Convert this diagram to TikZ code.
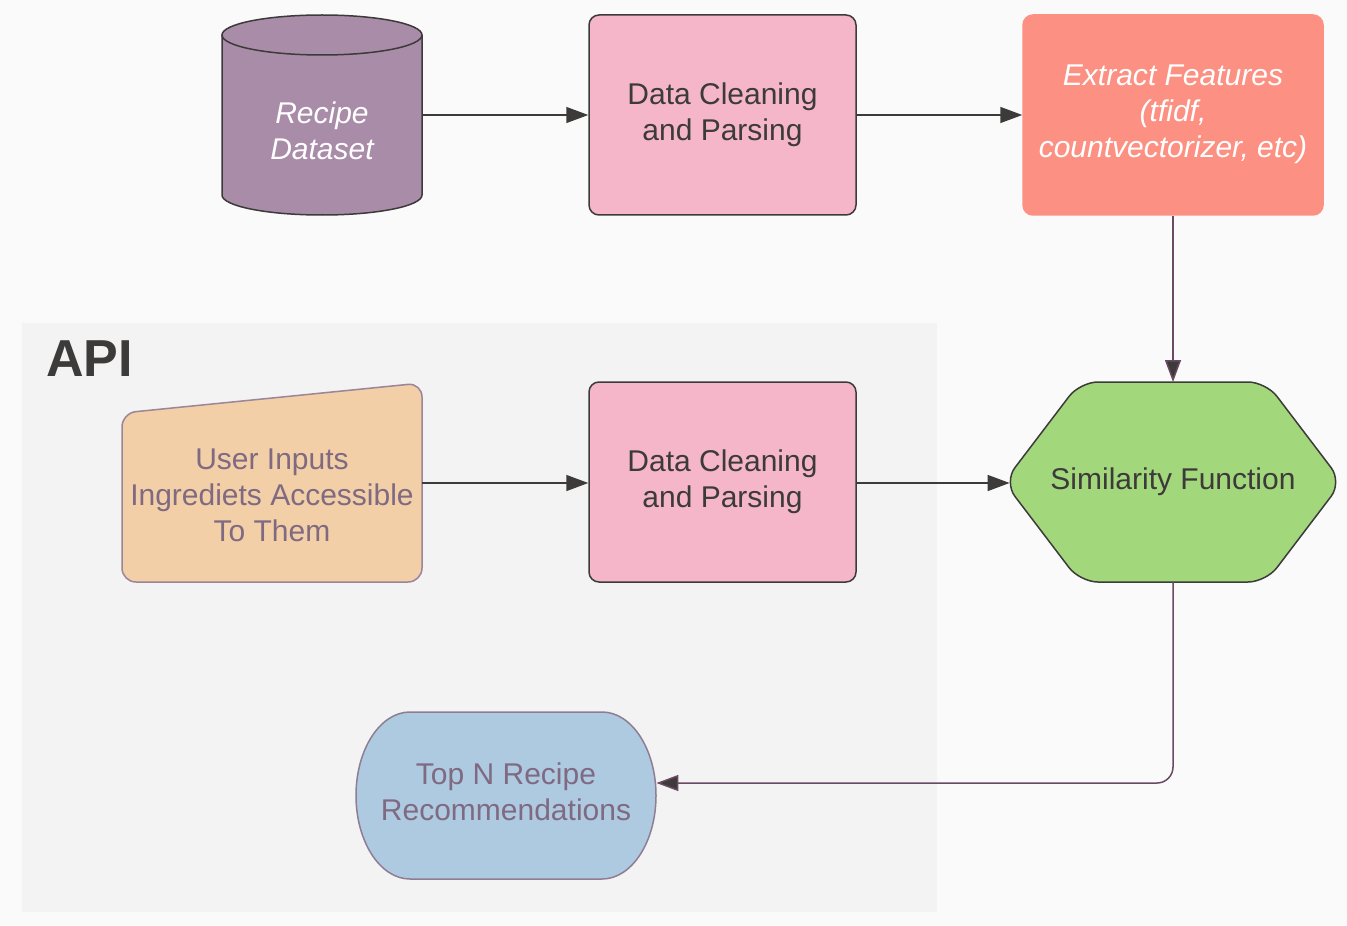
\documentclass[tikz,border=0pt]{standalone}
\usepackage{fontspec}
\setmainfont{Liberation Sans}
\usetikzlibrary{arrows.meta}
\definecolor{bgc}{HTML}{FAFAFA}
\definecolor{apic}{HTML}{F3F3F3}
\definecolor{dark}{HTML}{3D3A3A}
\definecolor{cylc}{HTML}{A98CA8}
\definecolor{dcc}{HTML}{F4B6C8}
\definecolor{efc}{HTML}{FC9183}
\definecolor{simc}{HTML}{A3D77C}
\definecolor{userc}{HTML}{F2CFA6}
\definecolor{userb}{HTML}{9C8499}
\definecolor{topc}{HTML}{ADCAE1}
\definecolor{topb}{HTML}{8F7D94}
\definecolor{purtext}{HTML}{7F6A82}
\definecolor{maroon}{HTML}{6A4A63}
\tikzset{
  box/.style={draw=dark, line width=0.75pt, rounded corners=5pt, fill=dcc,
    minimum width=133.5pt, minimum height=100pt},
  ghost/.style={minimum width=#1, align=center, inner sep=0pt},
  conn/.style={draw=dark, line width=0.75pt, -{Triangle[length=11pt,width=8pt]}},
  connm/.style={draw=maroon, line width=0.75pt, -{Triangle[length=11pt,width=8pt,fill=dark]}},
  txt/.style={font=\fontsize{15}{18}\selectfont, align=center}
}
\begin{document}
\begin{tikzpicture}[x=0.5pt,y=-0.5pt]
\useasboundingbox (0,0) rectangle (1347,925);
\fill[bgc] (0,0) rectangle (1347,925);
% API region
\fill[apic] (22,323) rectangle (937,912);
\node[anchor=north west, inner sep=0pt, font=\fontsize{26}{30}\selectfont\bfseries, text=dark] (api) at (46,340) {API};
% cylinder
\filldraw[fill=cylc, draw=dark, line width=0.75pt] (222,35) -- (222,195) arc[start angle=180, end angle=360, x radius=50pt, y radius=10pt] -- (422,35);
\filldraw[fill=cylc, draw=dark, line width=0.75pt] (322,35) ellipse [x radius=50pt, y radius=10pt];
\node[ghost=100pt, minimum height=100pt, txt, text=white, font=\fontsize{15}{18}\selectfont\itshape] (data) at (322,131) {Recipe\\Dataset};
% data cleaning boxes
\node[box] (dc1) at (722.5,115) {};
\node[txt, text=dark] (dc1t) at (722.5,114.5) {Data Cleaning\\and Parsing};
\node[box] (dc2) at (722.5,482) {};
\node[txt, text=dark] (dc2t) at (722.5,481.5) {Data Cleaning\\and Parsing};
% extract features
\node[box, fill=efc, draw=efc, minimum width=150pt] (ef) at (1173,115) {};
\node[txt, text=white, font=\fontsize{15}{18}\selectfont\itshape] (eft) at (1173,114) {Extract Features\\(tfidf,\\countvectorizer, etc)};
% similarity hexagon
\filldraw[fill=simc, draw=dark, line width=0.75pt, rounded corners=9pt]
  (1173,382) -- (1080,382) -- (1004,482) -- (1080,582) -- (1266,582) -- (1342,482) -- (1266,382) -- cycle;
\node[ghost=163pt, minimum height=100pt, txt, text=dark] (sim) at (1173,482) {Similarity Function};
% user input
\filldraw[fill=userc, draw=userb, line width=0.75pt, rounded corners=7pt]
  (122,500) -- (122,413) -- (422,383) -- (422,582) -- (122,582) -- cycle;
\node[ghost=150pt, minimum height=99.5pt, txt, text=purtext] (user) at (272,495) {User Inputs\\Ingrediets Accessible\\To Them};
% top N
\filldraw[fill=topc, draw=topb, line width=0.75pt]
  (410,712) -- (602,712) arc[start angle=90, end angle=-90, x radius=27pt, y radius=41.75pt]
  -- (410,879) arc[start angle=270, end angle=90, x radius=27pt, y radius=41.75pt] -- cycle;
\node[ghost=150pt, minimum height=83.5pt, txt, text=purtext] (topn) at (506,792) {Top N Recipe\\Recommendations};
% connectors
\draw[conn] (422,115) -- (dc1.west);
\draw[conn] (dc1.east) -- (ef.west);
\draw[connm] (ef.south) -- (sim.north |- 0,382);
\draw[conn] (user.east |- 0,483) -- (dc2.west |- 0,483);
\draw[conn] (dc2.east |- 0,483) -- (sim.west |- 0,483);
\draw[connm, rounded corners=8pt] (sim.south |- 0,582) |- (topn.east |- 0,783);
\end{tikzpicture}
\end{document}
